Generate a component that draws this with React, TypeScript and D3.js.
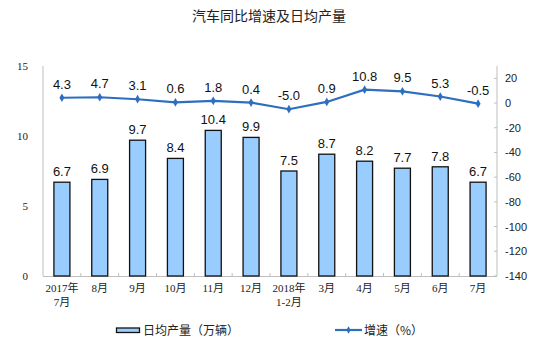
import * as d3 from "d3";

const categories = [
  ["2017年", "7月"],
  ["8月"],
  ["9月"],
  ["10月"],
  ["11月"],
  ["12月"],
  ["2018年", "1-2月"],
  ["3月"],
  ["4月"],
  ["5月"],
  ["6月"],
  ["7月"],
];
const dailyOutput = [6.7, 6.9, 9.7, 8.4, 10.4, 9.9, 7.5, 8.7, 8.2, 7.7, 7.8, 6.7];
const growth = [4.3, 4.7, 3.1, 0.6, 1.8, 0.4, -5.0, 0.9, 10.8, 9.5, 5.3, -0.5];
const leftTicks = [0, 5, 10, 15];
const rightTicks = [-140, -120, -100, -80, -60, -40, -20, 0, 20];

const W = 550;
const H = 352;
const margin = { top: 66, right: 53, bottom: 76, left: 43 };

const serif = "'Liberation Serif', 'DejaVu Serif', 'Noto Sans CJK SC', serif";
const sans = "'Liberation Sans', Arial, 'Noto Sans CJK SC', sans-serif";

export default function App() {
  const idx = categories.map((_, i) => i);
  const x = d3
    .scaleBand<number>()
    .domain(idx)
    .range([margin.left, W - margin.right])
    .padding(0);
  const yL = d3.scaleLinear().domain([0, 15]).range([H - margin.bottom, margin.top]);
  const yR = d3.scaleLinear().domain([-140, 30]).range([H - margin.bottom, margin.top]);
  const barW = 16;
  const cx = (i: number) => (x(i) ?? 0) + x.bandwidth() / 2;

  const line = d3
    .line<number>()
    .x((_, i) => cx(i))
    .y((d) => yR(d));

  const axisColor = "#bfbfbf";
  const x0 = margin.left;
  const x1 = W - margin.right;
  const yb = H - margin.bottom;

  return (
    <svg width={W} height={H} style={{ position: "absolute", left: 0, top: 0, background: "#fff" }}>
      <text x={269} y={21} textAnchor="middle" fontSize={14} fontFamily="'Noto Sans CJK SC', sans-serif" fill="#222">
        汽车同比增速及日均产量
      </text>

      {/* axes */}
      <line x1={x0} x2={x0} y1={margin.top} y2={yb} stroke={axisColor} />
      <line x1={x1} x2={x1} y1={margin.top} y2={yb} stroke={axisColor} />
      <line x1={x0} x2={x1} y1={yb + 0.5} y2={yb + 0.5} stroke={axisColor} />
      {idx.slice(1).map((i) => (
        <line key={i} x1={x(i)} x2={x(i)} y1={yb} y2={yb - 3} stroke={axisColor} />
      ))}
      {leftTicks.map((t) => (
        <text key={t} x={28} y={yL(t) + 4} textAnchor="end" fontSize={11} fontFamily={serif} fill="#222">
          {t}
        </text>
      ))}
      {rightTicks.map((t) => (
        <g key={t}>
          <line x1={x1 - 3} x2={x1} y1={yR(t)} y2={yR(t)} stroke={axisColor} />
          <text x={505} y={yR(t) + 4} fontSize={11} fontFamily={sans} fill="#222">
            {t}
          </text>
        </g>
      ))}

      {/* bars */}
      {dailyOutput.map((v, i) => (
        <g key={i}>
          <rect
            x={cx(i) - barW / 2}
            y={yL(v)}
            width={barW}
            height={yb - yL(v)}
            fill="#99ccff"
            stroke="#111"
            strokeWidth={1.3}
          />
          <text x={cx(i)} y={yL(v) - 6} textAnchor="middle" fontSize={13} fontFamily={sans} fill="#111">
            {v.toFixed(1)}
          </text>
        </g>
      ))}

      {/* line */}
      <path d={line(growth) ?? ""} fill="none" stroke="#2e6ec0" strokeWidth={2.2} />
      {growth.map((v, i) => (
        <g key={i}>
          <path
            d={d3.symbol(d3.symbolDiamond, 22)() ?? ""}
            transform={`translate(${cx(i)},${yR(v)})`}
            fill="#2e6ec0"
          />
          <text x={cx(i)} y={yR(v) - 9} textAnchor="middle" fontSize={13} fontFamily={sans} fill="#111">
            {v.toFixed(1)}
          </text>
        </g>
      ))}

      {/* category labels */}
      {categories.map((c, i) => (
        <text key={i} x={cx(i)} y={292} textAnchor="middle" fontSize={11} fontFamily={serif} fill="#222">
          {c.map((s, j) => (
            <tspan key={j} x={cx(i)} dy={j === 0 ? 0 : 14}>
              {s}
            </tspan>
          ))}
        </text>
      ))}

      {/* legend */}
      <rect x={116.5} y={328} width={23} height={4.5} fill="#99ccff" stroke="#111" strokeWidth={1.3} />
      <text x={143} y={335} fontSize={12} fontFamily="'Noto Sans CJK SC', sans-serif" fill="#222">
        日均产量（万辆）
      </text>
      <line x1={335} x2={362} y1={330} y2={330} stroke="#2e6ec0" strokeWidth={2.2} />
      <path d={d3.symbol(d3.symbolDiamond, 16)() ?? ""} transform="translate(348.5,330)" fill="#2e6ec0" />
      <text x={364} y={335} fontSize={12} fontFamily="'Noto Sans CJK SC', sans-serif" fill="#222">
        增速（%）
      </text>
    </svg>
  );
}
